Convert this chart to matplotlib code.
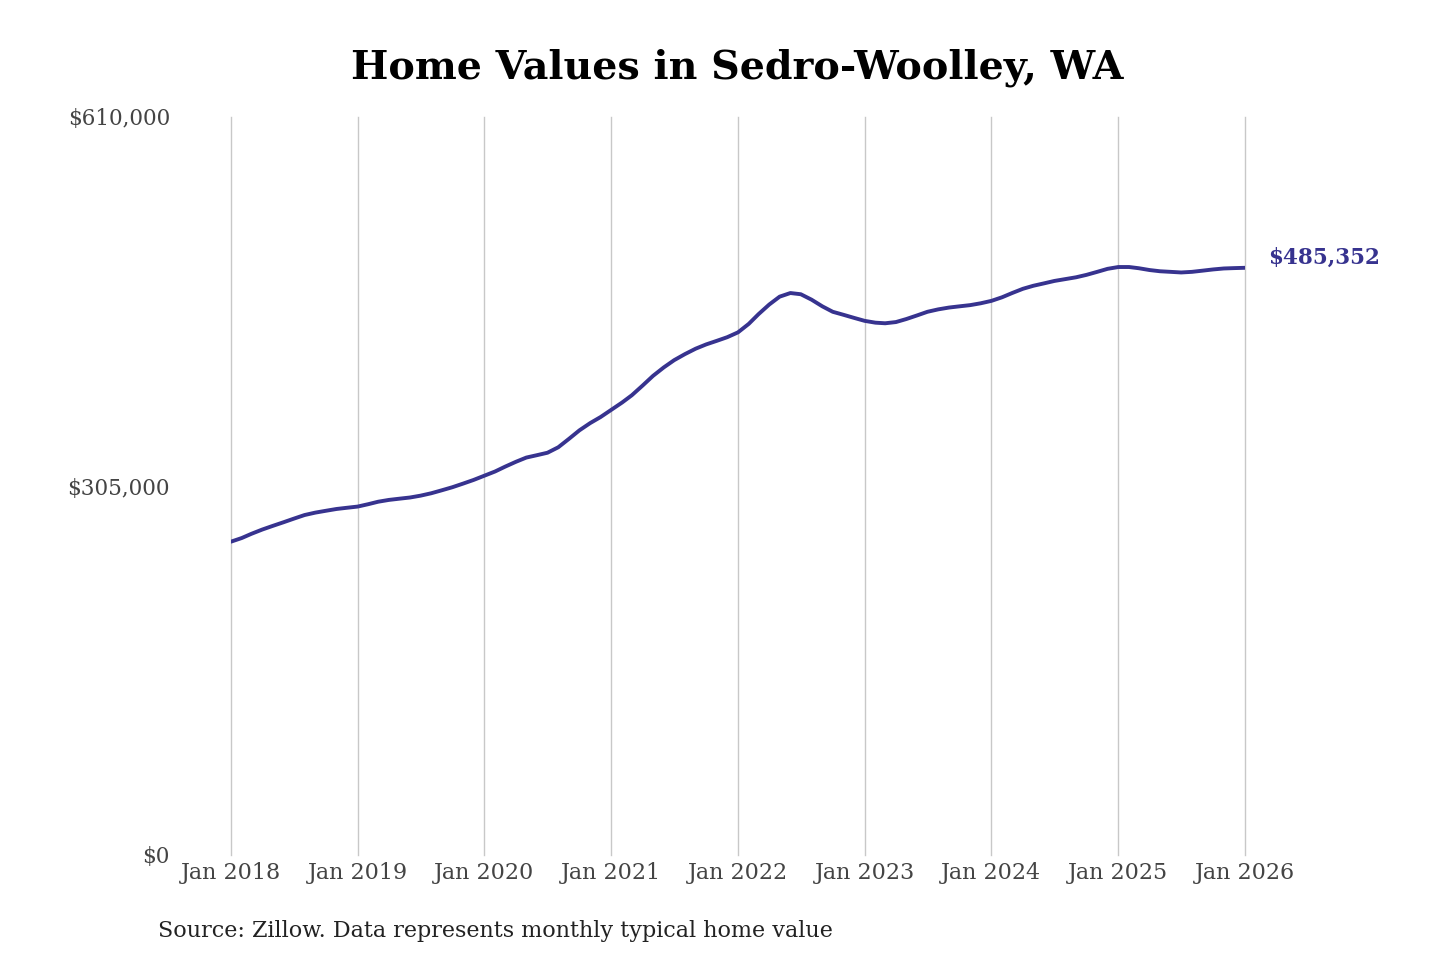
import matplotlib
matplotlib.use("Agg")
import matplotlib.pyplot as plt
import numpy as np
import pandas as pd

# monthly typical home value, Jan 2018 .. Jan 2026
values_2018 = [259000, 262000, 265500, 269000, 272000, 275000, 278000, 281000, 283000, 284500, 286000, 287000]
values_2019 = [288000, 290000, 292000, 293500, 294500, 295500, 297000, 299000, 301500, 304000, 307000, 310000]
values_2020 = [313500, 317000, 321000, 325000, 328500, 330500, 332500, 337000, 344000, 351000, 357000, 362000]
values_2021 = [368000, 374000, 380000, 388000, 396000, 403000, 409000, 414000, 418500, 422000, 425000, 428000]
values_2022 = [432000, 439000, 447000, 455000, 461500, 464500, 463500, 459000, 453500, 449000, 446500, 444000]
values_2023 = [441500, 440000, 439500, 440500, 443000, 446000, 449000, 451000, 452500, 453500, 454500, 456000]
values_2024 = [458000, 461000, 464500, 468000, 470500, 472500, 474500, 476000, 477500, 479500, 482000, 484500]
values_2025 = [486000, 486000, 485000, 483500, 482500, 482000, 481500, 482000, 483000, 484000, 484800, 485100]
values_2026 = [485352]

values = (values_2018 + values_2019 + values_2020 + values_2021 + values_2022
          + values_2023 + values_2024 + values_2025 + values_2026)
dates = pd.date_range("2018-01-01", periods=len(values), freq="MS")

tick_dates = pd.date_range("2018-01-01", "2026-01-01", freq="YS")
tick_labels = [d.strftime("Jan %Y") for d in tick_dates]
y_ticks = [0, 305000, 610000]
y_labels = ["$0", "$305,000", "$610,000"]

line_color = "#37338f"
serif = "DejaVu Serif"

fig = plt.figure(figsize=(14.4, 9.6), dpi=100)
ax = fig.add_axes([231 / 1440, 1 - 855 / 960, 1014 / 1440, 738 / 960])

ax.plot(dates, values, color=line_color, linewidth=2.8, solid_capstyle="round")

ax.set_xlim(dates[0], dates[-1])
ax.set_ylim(0, 610000)
ax.set_xticks(tick_dates)
ax.set_xticklabels(tick_labels, fontsize=16, color="#444444", family=serif)
ax.set_yticks(y_ticks)
ax.set_yticklabels(y_labels, fontsize=15.5, color="#444444", family=serif)
ax.tick_params(axis="x", length=0, pad=5)
ax.tick_params(axis="y", length=0, pad=44)

ax.grid(axis="x", color="#c8c8c8", linewidth=1)
ax.grid(axis="y", visible=False)
for gl in ax.get_xgridlines():
    gl.set_clip_on(False)
for s in ax.spines.values():
    s.set_visible(False)

# end label
ax.annotate(f"${values[-1]:,}", xy=(dates[-1], values[-1]), xytext=(17, 7),
            textcoords="offset points", color=line_color, fontsize=15.5,
            fontweight="bold", family=serif, va="center", ha="left")

fig.text(737 / 1440, 1 - 68 / 960, "Home Values in Sedro-Woolley, WA",
         ha="center", va="center", fontsize=28.5, fontweight="bold", family=serif)
fig.text(158 / 1440, 1 - 931 / 960, "Source: Zillow. Data represents monthly typical home value",
         ha="left", va="center", fontsize=16, color="#222222", family=serif)

fig.savefig("out.png", dpi=100)
